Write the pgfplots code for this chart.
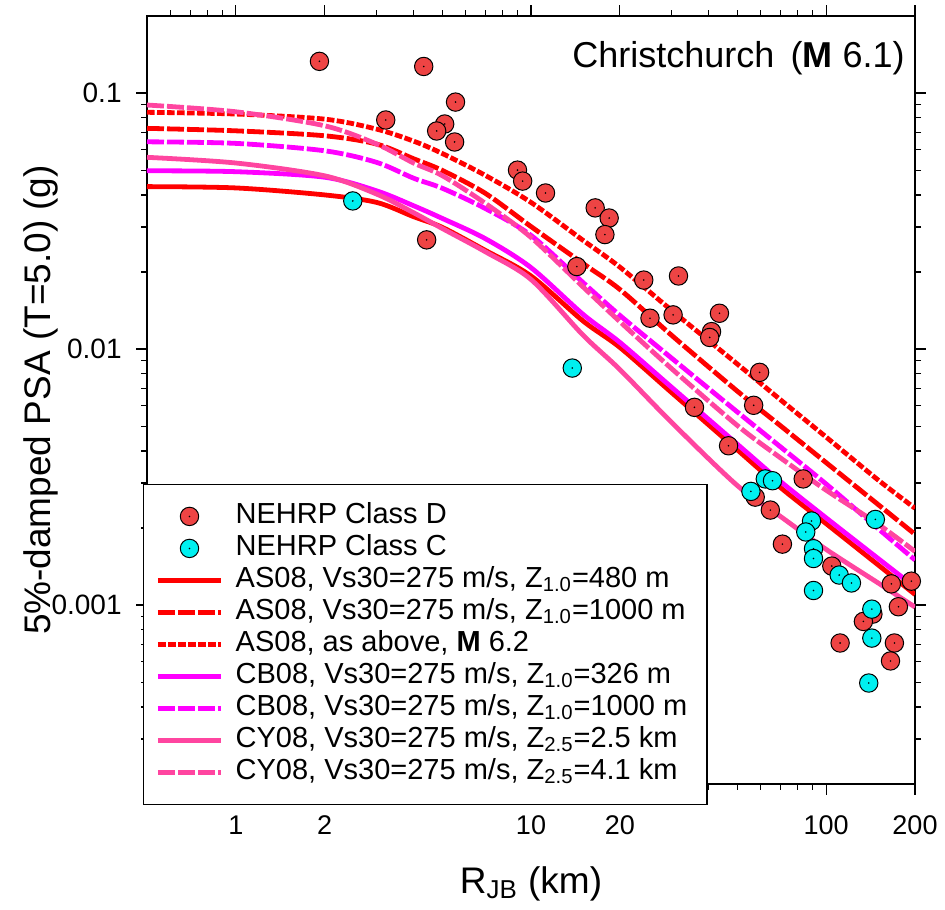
\documentclass[border=0pt]{standalone}
\usepackage{fontspec}
\setmainfont{Liberation Sans}
\usepackage{pgfplots}
\usepackage{pgfplotstable}
\pgfplotsset{compat=1.18}

\definecolor{dred}{HTML}{EE4444}
\definecolor{ccyan}{HTML}{00F0F0}
\definecolor{asred}{HTML}{FF0000}
\definecolor{cbmag}{HTML}{FF00FF}
\definecolor{cypink}{HTML}{FF45A0}

% circle with a small black dot in the middle
\pgfdeclareplotmark{dotball}{%
  \pgfpathcircle{\pgfpointorigin}{\pgfplotmarksize}%
  \pgfusepathqfillstroke
  \begin{pgfscope}
    \pgfsetfillcolor{black}%
    \pgfpathcircle{\pgfpointorigin}{0.45pt}%
    \pgfusepathqfill
  \end{pgfscope}
}

\pgfplotsset{
  lineleg/.style={legend image code/.code={\draw[##1] (0pt,0pt) -- (31.5pt,0pt);}},
  markleg/.style={legend image code/.code={\draw[##1] plot coordinates {(15.75pt,0pt)};}},
  gmpe/.style={line width=2.4pt, smooth, no marks},
  longdash/.style={dash pattern=on 8.5pt off 1.5pt},
  shortdash/.style={dash pattern=on 3.8pt off 1.2pt},
}

% model curves, PSA in g
\pgfplotstableread{
x    as480    as1000   as62     cb326    cb1000   cy25     cy41
0.5  0.0431   0.0728   0.0841   0.0497   0.0645   0.0561   0.0898
1    0.0426   0.0712   0.0828   0.0493   0.0636   0.0533   0.0845
2    0.0400   0.0681   0.0791   0.0469   0.0595   0.0475   0.0745
3    0.0374   0.0632   0.0723   0.0415   0.0536   0.0403   0.0632
4    0.0329   0.0554   0.0649   0.0363   0.0465   0.0341   0.0533
5    0.0299   0.0499   0.0581   0.0324   0.0425   0.0296   0.0476
7    0.0243   0.0406   0.0477   0.0270   0.0354   0.0240   0.0371
10   0.0193   0.0301   0.0374   0.0208   0.0278   0.0187   0.0273
15   0.01288  0.0216   0.0266   0.01367  0.0182   0.01134  0.0175
20   0.01015  0.0171   0.0209   0.01062  0.01354  0.00832  0.0128
30   0.00675  0.0113   0.01414  0.00708  0.0092   0.00516  0.00837
50   0.00404  0.00685  0.00874  0.00425  0.00568  0.00293  0.00503
70   0.00288  0.00502  0.00634  0.00304  0.00415  0.00222  0.00376
100  0.00208  0.00360  0.00453  0.00219  0.00297  0.00165  0.00281
150  0.001435 0.00247  0.00308  0.00152  0.00199  0.00122  0.00207
200  0.00110  0.00189  0.00239  0.001175 0.00150  0.000982 0.00162
}\curves

% recordings, NEHRP class D
\pgfplotstableread{
r      psa
1.92   0.133
4.33   0.127
3.22   0.0785
5.55   0.0922
5.10   0.0757
4.79   0.0711
5.51   0.0644
4.43   0.0267
9.0    0.0500
9.37   0.0453
11.2   0.0407
16.5   0.0356
18.4   0.0325
17.8   0.0280
14.3   0.0210
24.1   0.0186
31.6   0.0193
25.3   0.0132
30.3   0.0136
43.5   0.0138
40.9   0.0117
40.3   0.0111
59.5   0.00811
56.8   0.00603
35.8   0.00592
46.7   0.00419
57.5   0.00264
83.6   0.00311
64.7   0.00235
71.1   0.00173
104.5  0.00142
166.3  0.00121
194.4  0.00124
175.7  0.000985
144.0  0.000922
133.7  0.000863
111.5  0.000711
170.3  0.000711
165.2  0.000605
}\classD

% recordings, NEHRP class C
\pgfplotstableread{
r      psa
2.49   0.0379
13.8   0.00843
62.2   0.00311
65.8   0.00306
55.6   0.00278
89.2   0.00213
85.3   0.00193
90.6   0.00166
90.6   0.00152
90.6   0.00114
110.7  0.00131
121.8  0.00122
146.8  0.00216
142.8  0.000964
142.8  0.000743
139.4  0.000496
}\classC

\begin{document}
\begin{tikzpicture}
\useasboundingbox (-73.5pt,-62.5pt) rectangle (399pt,392pt);
\begin{axis}[
    at={(0,0)}, anchor=south west,
    scale only axis,
    width=384pt, height=384pt,
    xmode=log, ymode=log,
    xmin=0.5, xmax=200,
    ymin=0.0002, ymax=0.2,
    xtick={1,2,10,20,100,200},
    xticklabels={1,2,10,20,100,200},
    minor xtick={0.6,0.7,0.8,0.9,3,4,5,6,7,8,9,30,40,50,60,70,80,90},
    ytick={0.001,0.01,0.1},
    yticklabels={0.001,0.01,0.1},
    minor ytick={0.0003,0.0004,0.0005,0.0006,0.0007,0.0008,0.0009,
                 0.002,0.003,0.004,0.005,0.006,0.007,0.008,0.009,
                 0.02,0.03,0.04,0.05,0.06,0.07,0.08,0.09},
    tick align=outside,
    major tick length=5.5pt,
    minor tick length=3pt,
    tick style={black, line width=0.6pt},
    axis line style={line width=0.6pt},
    xticklabel style={font=\fontsize{13.5}{15}\selectfont, anchor=base, inner sep=0pt, yshift=-20pt},
    yticklabel style={font=\fontsize{14}{16}\selectfont, anchor=east, inner sep=0pt, xshift=-7pt},
    xlabel={R\textsubscript{JB} (km)},
    ylabel={5\%-damped PSA (T=5.0) (g)},
    label style={font=\fontsize{18.5}{20}\selectfont},
    xlabel style={at={(axis description cs:0.5,0)}, anchor=base, yshift=-54.5pt},
    ylabel style={at={(axis description cs:-0.1263,0.5)}, anchor=base},
    legend cell align=left,
    legend style={
        at={(0,0)}, anchor=south west,
        xshift=-2pt, yshift=-10.5pt,
        draw=black, line width=0.6pt, fill=white,
        inner xsep=6pt, inner ysep=8pt,
        row sep=0pt, column sep=2.3pt,
        font=\fontsize{14.5}{16}\selectfont,
        nodes={inner xsep=3.85pt, inner ysep=0pt, text height=11.5pt, text depth=4.5pt},
    },
    lineleg,
]
\addplot[only marks, mark=dotball, mark size=4.6pt,
         mark options={fill=dred, draw=black, line width=0.5pt}, markleg]
    table[x=r, y=psa] {\classD};
\addlegendentry{NEHRP Class D}
\addplot[only marks, mark=dotball, mark size=4.6pt,
         mark options={fill=ccyan, draw=black, line width=0.5pt}, markleg]
    table[x=r, y=psa] {\classC};
\addlegendentry{NEHRP Class C}

\addplot[asred, gmpe] table[x=x, y=as480] {\curves};
\addlegendentry{AS08, Vs30=275 m/s, Z\textsubscript{1.0}=480 m}
\addplot[asred, gmpe, longdash] table[x=x, y=as1000] {\curves};
\addlegendentry{AS08, Vs30=275 m/s, Z\textsubscript{1.0}=1000 m}
\addplot[asred, gmpe, shortdash] table[x=x, y=as62] {\curves};
\addlegendentry{AS08, as above, \textbf{M} 6.2}
\addplot[cbmag, gmpe] table[x=x, y=cb326] {\curves};
\addlegendentry{CB08, Vs30=275 m/s, Z\textsubscript{1.0}=326 m}
\addplot[cbmag, gmpe, longdash] table[x=x, y=cb1000] {\curves};
\addlegendentry{CB08, Vs30=275 m/s, Z\textsubscript{1.0}=1000 m}
\addplot[cypink, gmpe] table[x=x, y=cy25] {\curves};
\addlegendentry{CY08, Vs30=275 m/s, Z\textsubscript{2.5}=2.5 km}
\addplot[cypink, gmpe, longdash] table[x=x, y=cy41] {\curves};
\addlegendentry{CY08, Vs30=275 m/s, Z\textsubscript{2.5}=4.1 km}

\node[anchor=east, inner sep=0pt, font=\fontsize{18}{20}\selectfont]
    at (rel axis cs:0.987,0.945) {Christchurch\hspace{0.45em}(\textbf{M} 6.1)};
\end{axis}
\end{tikzpicture}
\end{document}
